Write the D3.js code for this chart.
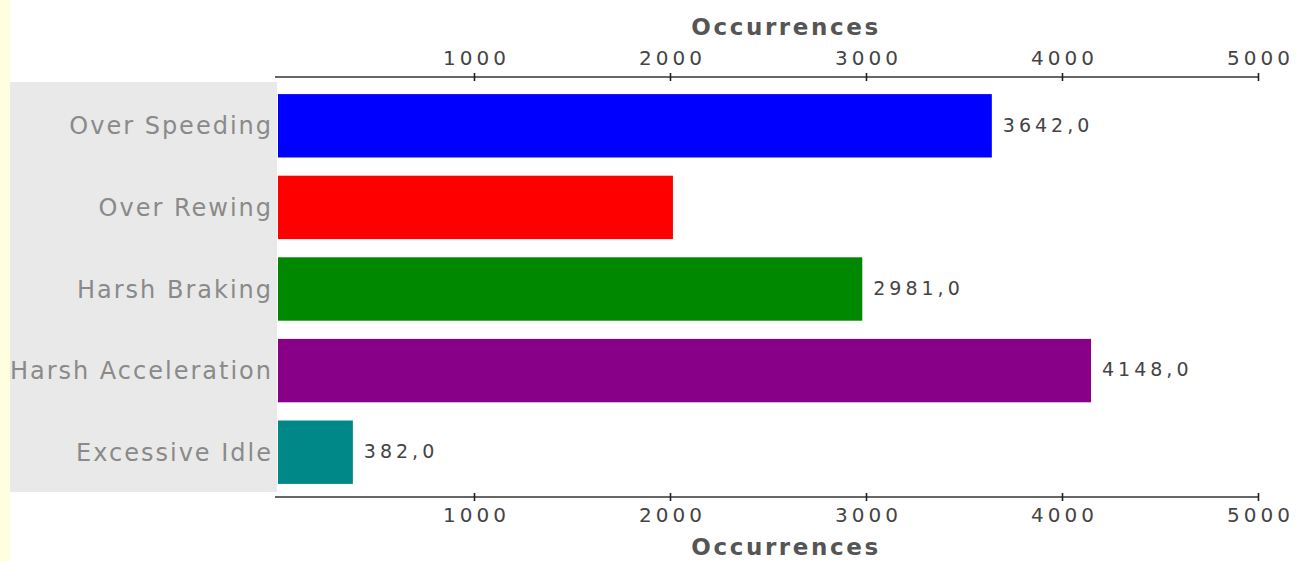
<!DOCTYPE html>
<html>
<head>
<meta charset="utf-8">
<script src="https://cdn.jsdelivr.net/npm/d3@7/dist/d3.min.js"></script>
<style>
  html, body { margin: 0; padding: 0; background: #ffffff; }
  svg { display: block; }
</style>
</head>
<body>
<svg id="chart" width="1298" height="561"></svg>
<script>
// Occurrences per driving event type
const categories = ["Over Speeding", "Over Rewing", "Harsh Braking", "Harsh Acceleration", "Excessive Idle"];
const values = [3642, 2015, 2981, 4148, 382];
const valueLabels = ["3642,0", null, "2981,0", "4148,0", "382,0"];
const barColors = ["#0000ff", "#ff0000", "#008800", "#880088", "#008888"];
const tickValues = [1000, 2000, 3000, 4000, 5000];
const axisTitle = "Occurrences";

const svg = d3.select("#chart");
const W = 1298, H = 561;

const x = d3.scaleLinear().domain([0, 5000]).range([278, 1258]);
const y = d3.scaleBand()
  .domain(categories)
  .range([85, 493])
  .paddingInner(0.223)
  .paddingOuter(0.1115);

// grey category panel
svg.append("rect")
  .attr("x", 10).attr("y", 82)
  .attr("width", 267).attr("height", 410)
  .attr("fill", "#e9e9e9");

// category labels
svg.append("g").selectAll("text")
  .data(categories)
  .join("text")
  .attr("x", 273)
  .attr("y", d => y(d) + y.bandwidth() / 2)
  .attr("dy", "0.36em")
  .attr("text-anchor", "end")
  .attr("font-family", "DejaVu Sans, Verdana, sans-serif")
  .attr("font-size", 24)
  .attr("letter-spacing", 2)
  .attr("fill", "#8a8a8a")
  .text(d => d);

// bars
svg.append("g").selectAll("rect")
  .data(categories)
  .join("rect")
  .attr("x", x(0))
  .attr("y", d => y(d))
  .attr("width", (d, i) => x(values[i]) - x(0))
  .attr("height", y.bandwidth())
  .attr("fill", (d, i) => barColors[i]);

// value labels
svg.append("g").selectAll("text")
  .data(categories.map((c, i) => ({ c, v: values[i], t: valueLabels[i] })).filter(d => d.t))
  .join("text")
  .attr("x", d => x(d.v) + 11)
  .attr("y", d => y(d.c) + y.bandwidth() / 2)
  .attr("dy", "0.3em")
  .attr("font-family", "DejaVu Sans, Verdana, sans-serif")
  .attr("font-size", 19)
  .attr("letter-spacing", 4)
  .attr("fill", "#444")
  .text(d => d.t);

// axes (top and bottom)
function styleAxis(g, labelDy) {
  g.select(".domain").attr("stroke", "#333").attr("stroke-width", 1.6);
  g.selectAll(".tick line").attr("stroke", "#222").attr("stroke-width", 1.6)
    .attr("y1", -4).attr("y2", 4);
  g.selectAll(".tick text")
    .attr("font-family", "DejaVu Sans, Verdana, sans-serif")
    .attr("font-size", 20)
    .attr("letter-spacing", 4)
    .attr("fill", "#444")
    .attr("dx", 2)
    .attr("y", labelDy);
}

const topAxis = d3.axisTop(x).tickValues(tickValues).tickSize(0).tickSizeOuter(0).tickFormat(d3.format("d"));
const gTop = svg.append("g").attr("transform", "translate(0,77)").call(topAxis);
gTop.select(".domain").attr("d", `M${x(0) - 3},0H${x(5000)}`);
styleAxis(gTop, -12);

const bottomAxis = d3.axisBottom(x).tickValues(tickValues).tickSize(0).tickSizeOuter(0).tickFormat(d3.format("d"));
const gBot = svg.append("g").attr("transform", "translate(0,497)").call(bottomAxis);
gBot.select(".domain").attr("d", `M${x(0) - 3},0H${x(5000)}`);
styleAxis(gBot, 11);

// axis titles
[35, 555].forEach(yy => {
  svg.append("text")
    .attr("x", 786)
    .attr("y", yy)
    .attr("text-anchor", "middle")
    .attr("font-family", "DejaVu Sans, Verdana, sans-serif")
    .attr("font-weight", "bold")
    .attr("font-size", 23)
    .attr("letter-spacing", 2.6)
    .attr("fill", "#555")
    .text(axisTitle);
});

// pale yellow strip on the left edge
svg.append("rect")
  .attr("x", 0).attr("y", 0)
  .attr("width", 10).attr("height", H)
  .attr("fill", "#ffffe0");
</script>
</body>
</html>
